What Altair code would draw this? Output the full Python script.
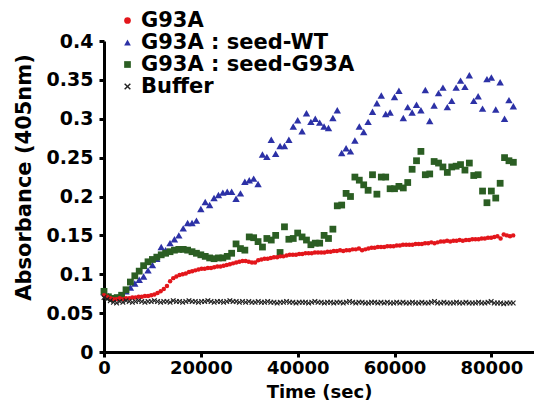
import altair as alt
import pandas as pd

series_names = ["G93A", "G93A : seed-WT", "G93A : seed-G93A", "Buffer"]
series_colors = ["#e3161b", "#2c31a6", "#2b5e23", "#222222"]
x_shape = "M-1,-0.7L-0.7,-1L0,-0.3L0.7,-1L1,-0.7L0.3,0L1,0.7L0.7,1L0,0.3L-0.7,1L-1,0.7L-0.3,0Z"
series_shapes = ["circle", "triangle-up", "square", x_shape]
series_sizes = {"G93A": 20, "G93A : seed-WT": 55, "G93A : seed-G93A": 46, "Buffer": 30}

step_fast = 650   # sampling interval (s) of G93A and Buffer
step_slow = 909   # sampling interval (s) of the seeded samples

x_domain = [0, 88800]
x_ticks = [0, 20000, 40000, 60000, 80000]
y_ticks = [0, 0.05, 0.1, 0.15, 0.2, 0.25, 0.3, 0.35, 0.4]

g93a = [
    0.073, 0.071, 0.069, 0.068, 0.068, 0.069, 0.068, 0.069, 0.069, 0.070,
    0.070, 0.071, 0.071, 0.072, 0.072, 0.073, 0.074, 0.076, 0.078, 0.081,
    0.085, 0.091, 0.095, 0.097, 0.099, 0.100, 0.101, 0.103, 0.104, 0.105,
    0.106, 0.107, 0.107, 0.108, 0.108, 0.109, 0.110, 0.110, 0.111, 0.112,
    0.113, 0.114, 0.115, 0.116, 0.117, 0.117, 0.116, 0.115, 0.115, 0.118,
    0.119, 0.120, 0.120, 0.121, 0.122, 0.122, 0.123, 0.123, 0.124, 0.125,
    0.125, 0.125, 0.126, 0.126, 0.127, 0.127, 0.127, 0.128, 0.128, 0.128,
    0.128, 0.129, 0.129, 0.130, 0.130, 0.131, 0.130, 0.131, 0.131, 0.132,
    0.132, 0.133, 0.131, 0.132, 0.133, 0.134, 0.134, 0.135, 0.135, 0.135,
    0.136, 0.136, 0.136, 0.137, 0.137, 0.138, 0.138, 0.138, 0.138, 0.139,
    0.139, 0.139, 0.140, 0.140, 0.141, 0.140, 0.141, 0.142, 0.142, 0.143,
    0.142, 0.143, 0.143, 0.144, 0.143, 0.144, 0.144, 0.145, 0.145, 0.145,
    0.146, 0.146, 0.147, 0.147, 0.148, 0.149, 0.146, 0.151, 0.150, 0.149,
    0.150,
]

seed_wt = [
    0.077, 0.072, 0.069, 0.070, 0.072, 0.078, 0.083, 0.088, 0.093, 0.097,
    0.105, 0.112, 0.120, 0.135, 0.131, 0.140, 0.145, 0.150, 0.159, 0.166,
    0.166, 0.169, 0.184, 0.193, 0.189, 0.198, 0.202, 0.205, 0.206, 0.206,
    0.197, 0.204, 0.219, 0.221, 0.223, 0.216, 0.254, 0.251, 0.273, 0.255,
    0.265, 0.265, 0.273, 0.290, 0.298, 0.284, 0.307, 0.296, 0.300, 0.295,
    0.290, 0.288, 0.301, 0.311, 0.256, 0.262, 0.258, 0.272, 0.290, 0.283,
    0.296, 0.309, 0.320, 0.330, 0.306, 0.308, 0.328, 0.336, 0.301, 0.315,
    0.308, 0.318, 0.311, 0.337, 0.297, 0.317, 0.333, 0.340, 0.315, 0.323,
    0.340, 0.349, 0.341, 0.356, 0.323, 0.329, 0.313, 0.351, 0.353, 0.312,
    0.347, 0.300, 0.324, 0.316,
]

seed_g93a = [
    0.078, 0.071, 0.069, 0.070, 0.073, 0.080, 0.090, 0.098, 0.104, 0.111,
    0.116, 0.119, 0.122, 0.125, 0.127, 0.129, 0.131, 0.132, 0.132, 0.131,
    0.129, 0.127, 0.125, 0.123, 0.121, 0.120, 0.121, 0.121, 0.123, 0.127,
    0.139, 0.133, 0.131, 0.148, 0.147, 0.142, 0.135, 0.146, 0.144, 0.150,
    0.128, 0.161, 0.145, 0.146, 0.153, 0.148, 0.144, 0.138, 0.140, 0.140,
    0.150, 0.146, 0.158, 0.188, 0.189, 0.204, 0.200, 0.225, 0.221, 0.215,
    0.208, 0.228, 0.203, 0.225, 0.225, 0.210, 0.210, 0.213, 0.211, 0.218,
    0.235, 0.246, 0.258, 0.228, 0.229, 0.245, 0.243, 0.238, 0.231, 0.238,
    0.239, 0.241, 0.234, 0.243, 0.227, 0.228, 0.207, 0.192, 0.207, 0.198,
    0.217, 0.250, 0.246, 0.244,
]

buffer = [
    0.070, 0.068, 0.066, 0.064, 0.063, 0.065, 0.064, 0.066, 0.065, 0.064,
    0.065, 0.066, 0.065, 0.064, 0.065, 0.065, 0.066, 0.065, 0.064, 0.065,
    0.065, 0.064, 0.066, 0.065, 0.065, 0.064, 0.065, 0.066, 0.065, 0.065,
    0.064, 0.065, 0.065, 0.066, 0.065, 0.064, 0.065, 0.065, 0.064, 0.065,
    0.066, 0.065, 0.065, 0.064, 0.065, 0.064, 0.065, 0.064, 0.064, 0.065,
    0.064, 0.064, 0.065, 0.064, 0.064, 0.063, 0.064, 0.064, 0.065, 0.064,
    0.064, 0.063, 0.064, 0.064, 0.064, 0.063, 0.064, 0.065, 0.064, 0.064,
    0.063, 0.064, 0.064, 0.063, 0.064, 0.064, 0.063, 0.064, 0.065, 0.064,
    0.063, 0.064, 0.064, 0.063, 0.063, 0.064, 0.064, 0.063, 0.064, 0.063,
    0.064, 0.063, 0.063, 0.064, 0.063, 0.064, 0.063, 0.063, 0.064, 0.063,
    0.063, 0.064, 0.063, 0.063, 0.064, 0.065, 0.063, 0.063, 0.064, 0.063,
    0.063, 0.063, 0.064, 0.063, 0.063, 0.064, 0.063, 0.063, 0.063, 0.064,
    0.063, 0.063, 0.064, 0.065, 0.063, 0.063, 0.063, 0.062, 0.063, 0.063,
    0.063,
]

# drawing order: blue, green, red, black (black on top)
draw_order = [
    ("G93A : seed-WT", seed_wt, step_slow),
    ("G93A : seed-G93A", seed_g93a, step_slow),
    ("G93A", g93a, step_fast),
    ("Buffer", buffer, step_fast),
]
rows = []
for name, vals, step in draw_order:
    for i, v in enumerate(vals):
        rows.append({"time": i * step, "absorbance": v, "series": name})
df = pd.DataFrame(rows)

FONT = "DejaVu Sans"

legend = alt.Legend(
    title=None,
    orient="none",
    legendX=13,
    legendY=-31,
    labelFont=FONT,
    labelFontSize=21,
    labelFontWeight="bold",
    labelColor="black",
    labelLimit=0,
    symbolSize=45,
    symbolStrokeWidth=0,
    symbolOpacity=1,
    rowPadding=0,
    labelOffset=3,
    padding=0,
)

x_enc = alt.X(
    "time:Q",
    scale=alt.Scale(domain=x_domain, nice=False),
    axis=alt.Axis(
        values=x_ticks,
        format="d",
        title="Time (sec)",
        titleY=45,
        titleBaseline="alphabetic",
        titleFontSize=18,
        labelFontSize=18,
        labelPadding=2,
    ),
)
y_enc = alt.Y(
    "absorbance:Q",
    scale=alt.Scale(domain=[0, 0.4], nice=False),
    axis=alt.Axis(
        values=y_ticks,
        format="~g",
        title="Absorbance (405nm)",
        titleX=-80,
        titleY=136,
        titleAngle=270,
        titleAlign="center",
        titleBaseline="middle",
        titleFontSize=21,
    ),
)
color_enc = alt.Color(
    "series:N",
    scale=alt.Scale(domain=series_names, range=series_colors),
    legend=legend,
)
shape_enc = alt.Shape(
    "series:N",
    scale=alt.Scale(domain=series_names, range=series_shapes),
    legend=legend,
)

layers = []
for name, _, _ in draw_order:
    layers.append(
        alt.Chart(df)
        .transform_filter(alt.datum.series == name)
        .mark_point(filled=True, opacity=1, strokeWidth=0, size=series_sizes[name])
        .encode(x=x_enc, y=y_enc, color=color_enc, shape=shape_enc)
    )

chart = (
    alt.layer(*layers)
    .properties(
        width=430,
        height=311,
        autosize=alt.AutoSizeParams(type="none"),
        padding={"left": 96, "top": 33, "right": 0, "bottom": 50},
    )
    .configure_view(stroke=None)
    .configure_axis(
        grid=False,
        domainColor="black",
        domainWidth=3,
        tickColor="black",
        tickWidth=3,
        tickSize=5,
        labelFont=FONT,
        labelFontSize=19,
        labelFontWeight="bold",
        labelColor="black",
        labelPadding=6,
        labelFlush=False,
        labelOverlap=False,
        titleFont=FONT,
        titleFontSize=20,
        titleFontWeight="bold",
        titleColor="black",
    )
)

chart.save("out.html", embed_options={"renderer": "svg", "actions": False})
